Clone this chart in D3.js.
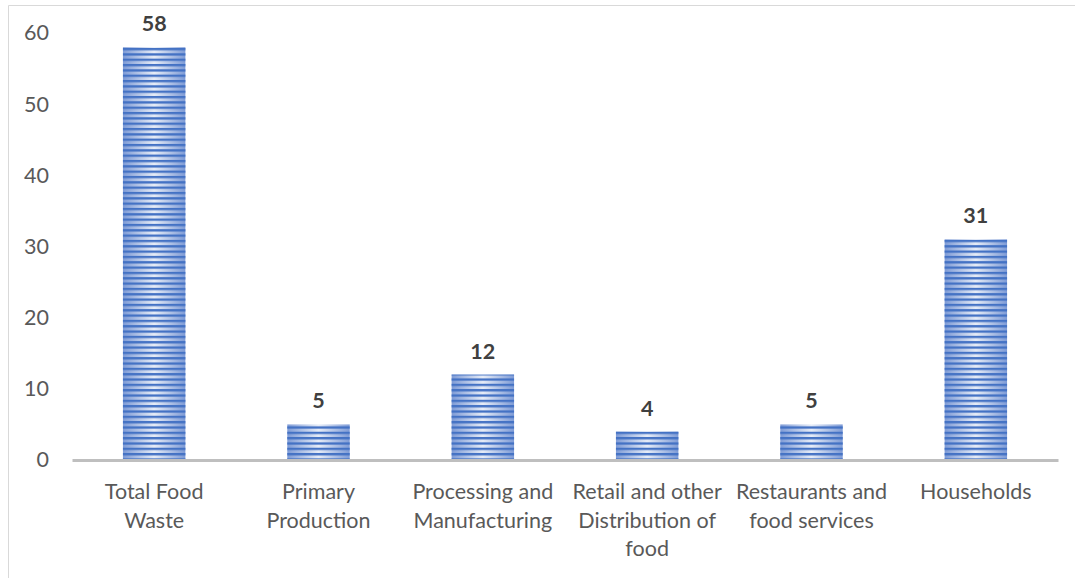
<!DOCTYPE html>
<html>
<head>
<meta charset="utf-8">
<script src="https://cdn.jsdelivr.net/npm/d3@7/dist/d3.min.js"></script>
<style>
  html, body { margin: 0; padding: 0; background: #fff; }
  svg { display: block; }
</style>
</head>
<body>
<svg id="chart" width="1075" height="578"></svg>
<script>
// Food waste by stage of the supply chain
const categories = [
  ["Total Food", "Waste"],
  ["Primary", "Production"],
  ["Processing and", "Manufacturing"],
  ["Retail and other", "Distribution of", "food"],
  ["Restaurants and", "food services"],
  ["Households"]
];
const values = [58, 5, 12, 4, 5, 31];
const yTicks = [0, 10, 20, 30, 40, 50, 60];

const W = 1075, H = 578;
const margin = { left: 72, right: 17, top: 33, bottom: 118 };
const font = "Lato, 'Open Sans', sans-serif";
const fontSize = 21.5;

const svg = d3.select("#chart");

// chart frame
svg.append("path")
  .attr("d", `M8.5,${H} V5.5 H${W}`)
  .attr("fill", "none")
  .attr("stroke", "#d9d9d9")
  .attr("stroke-width", 1);

const x = d3.scaleBand()
  .domain(d3.range(categories.length))
  .range([margin.left, W - margin.right])
  .paddingInner(0.62)
  .paddingOuter(0.31);

const y = d3.scaleLinear()
  .domain([0, 60])
  .range([H - margin.bottom, margin.top]);

// fills: a soft horizontal shading under thin blue stripes
const defs = svg.append("defs");
const grad = defs.append("linearGradient")
  .attr("id", "barShade")
  .attr("x1", "0%").attr("x2", "100%").attr("y1", "0%").attr("y2", "0%");
grad.append("stop").attr("offset", "0%").attr("stop-color", "#7e9bd6");
grad.append("stop").attr("offset", "50%").attr("stop-color", "#e6ecf7");
grad.append("stop").attr("offset", "100%").attr("stop-color", "#7e9bd6");

const stripe = defs.append("pattern")
  .attr("id", "barStripes")
  .attr("patternUnits", "userSpaceOnUse")
  .attr("width", 8).attr("height", 5.33);
stripe.append("rect")
  .attr("x", 0).attr("y", 0).attr("width", 8).attr("height", 2.3)
  .attr("fill", "#4472c4");

// y axis labels (no axis line)
const yAxis = d3.axisLeft(y).tickValues(yTicks).tickSize(0).tickPadding(0);
const yg = svg.append("g")
  .attr("transform", `translate(49,0)`)
  .call(yAxis);
yg.select(".domain").remove();
yg.selectAll("text")
  .attr("font-family", font)
  .attr("font-size", fontSize)
  .attr("fill", "#595959");

// bars
const bars = svg.append("g");
bars.selectAll("rect.shade")
  .data(values)
  .join("rect")
  .attr("class", "shade")
  .attr("x", (d, i) => x(i))
  .attr("width", x.bandwidth())
  .attr("y", d => y(d))
  .attr("height", d => y(0) - y(d))
  .attr("fill", "url(#barShade)");
bars.selectAll("rect.stripes")
  .data(values)
  .join("rect")
  .attr("class", "stripes")
  .attr("x", (d, i) => x(i))
  .attr("width", x.bandwidth())
  .attr("y", d => y(d))
  .attr("height", d => y(0) - y(d))
  .attr("fill", "url(#barStripes)");

// baseline
const xAxis = d3.axisBottom(x).tickSize(0).tickFormat("");
const xg = svg.append("g")
  .attr("transform", `translate(0,${y(0)})`)
  .call(xAxis);
xg.select(".domain")
  .attr("stroke", "#bfbfbf")
  .attr("stroke-width", 3);

// category labels
const labels = svg.append("g")
  .attr("font-family", font)
  .attr("font-size", fontSize)
  .attr("fill", "#595959")
  .attr("text-anchor", "middle");
labels.selectAll("text")
  .data(categories)
  .join("text")
  .attr("x", (d, i) => x(i) + x.bandwidth() / 2)
  .attr("y", 499)
  .each(function (lines) {
    d3.select(this).selectAll("tspan")
      .data(lines)
      .join("tspan")
      .attr("x", d3.select(this).attr("x"))
      .attr("dy", (l, k) => k === 0 ? 0 : 28.5)
      .text(l => l);
  });

// value labels
svg.append("g")
  .attr("font-family", font)
  .attr("font-size", fontSize)
  .attr("font-weight", "bold")
  .attr("fill", "#404040")
  .attr("text-anchor", "middle")
  .selectAll("text")
  .data(values)
  .join("text")
  .attr("x", (d, i) => x(i) + x.bandwidth() / 2)
  .attr("y", d => y(d) - 16)
  .text(d => d);
</script>
</body>
</html>
